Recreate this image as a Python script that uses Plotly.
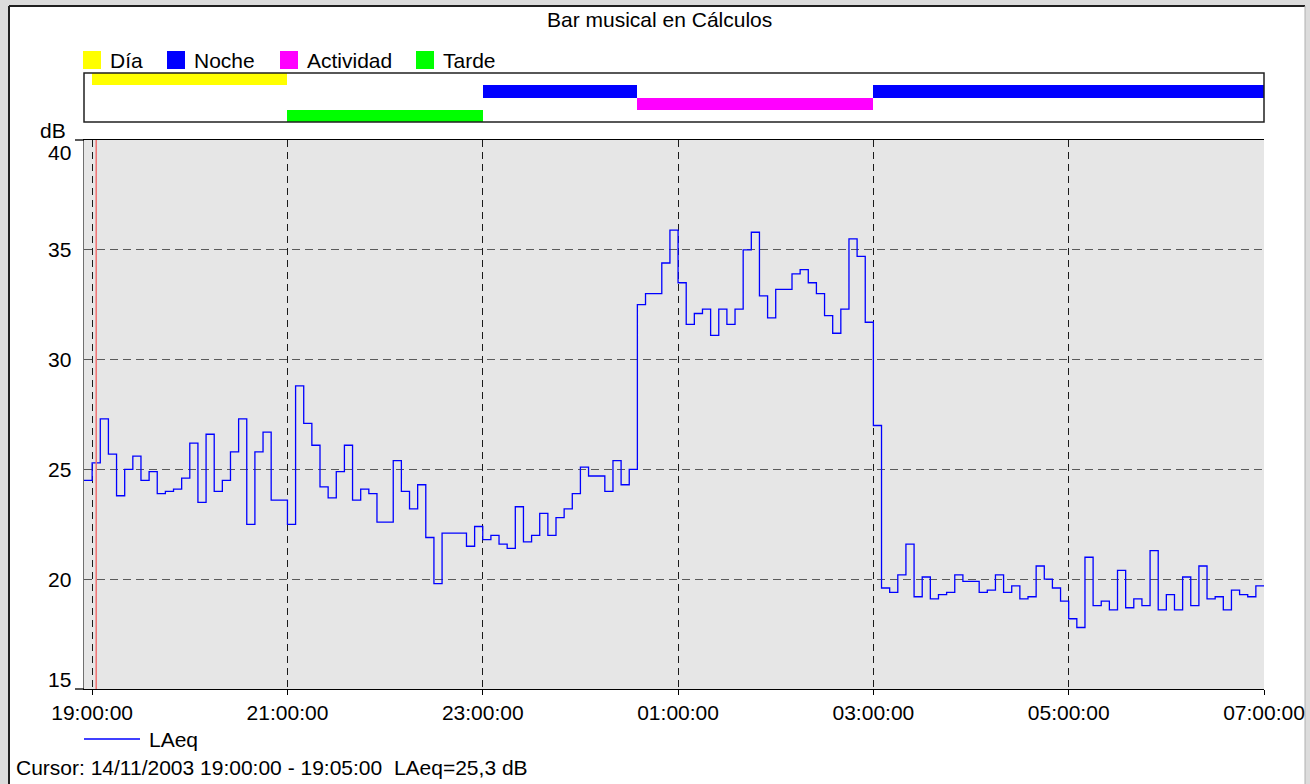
import pandas as pd
import plotly.graph_objects as go

# ---------------- data ----------------
title_text = "Bar musical en Cálculos"
series_name = "LAeq"
start_time = "2003-11-14 18:55:00"
end_time = "2003-11-15 07:00:00"
interval = "5min"
laeq = [
    24.5, 25.3, 27.3, 25.7, 23.8, 25.0, 25.6, 24.5, 24.9, 23.9, 24.0, 24.1,
    24.6, 26.2, 23.5, 26.6, 24.0, 24.5, 25.8, 27.3, 22.5, 25.8, 26.7, 23.6,
    23.6, 22.5, 28.8, 27.1, 26.1, 24.2, 23.7, 24.9, 26.1, 23.6, 24.1, 23.9,
    22.6, 22.6, 25.4, 24.0, 23.2, 24.3, 21.9, 19.8, 22.1, 22.1, 22.1, 21.5,
    22.4, 21.8, 22.0, 21.6, 21.4, 23.3, 21.7, 22.0, 23.0, 22.0, 22.8, 23.2,
    23.9, 25.1, 24.7, 24.7, 24.0, 25.4, 24.3, 25.0, 32.5, 33.0, 33.0, 34.4,
    35.9, 33.5, 31.6, 32.1, 32.3, 31.1, 32.3, 31.6, 32.3, 35.0, 35.8, 32.9,
    31.9, 33.2, 33.2, 33.9, 34.1, 33.5, 33.0, 32.0, 31.2, 32.3, 35.5, 34.7,
    31.7, 27.0, 19.6, 19.4, 20.2, 21.6, 19.2, 20.1, 19.1, 19.3, 19.4, 20.2,
    19.9, 19.9, 19.4, 19.5, 20.2, 19.4, 19.7, 19.1, 19.2, 20.6, 20.0, 19.6,
    19.0, 18.2, 17.8, 21.0, 18.8, 19.0, 18.6, 20.4, 18.7, 19.1, 18.8, 21.3,
    18.6, 19.3, 18.6, 20.1, 18.8, 20.6, 19.1, 19.2, 18.6, 19.5, 19.3, 19.2,
    19.7,
]

band_names = ["Día", "Noche", "Actividad", "Tarde"]
band_colors = ["#ffff00", "#0000ff", "#ff00ff", "#00ff00"]
period_band = ["Día", "Tarde", "Noche", "Actividad", "Noche"]
period_start = ["2003-11-14 19:00:00", "2003-11-14 21:00:00", "2003-11-14 23:00:00",
                "2003-11-15 00:35:00", "2003-11-15 03:00:00"]
period_end = ["2003-11-14 21:00:00", "2003-11-14 23:00:00", "2003-11-15 00:35:00",
              "2003-11-15 03:00:00", "2003-11-15 07:00:00"]

y_tick_vals = [15, 20, 25, 30, 35, 40]
y_tick_labels = ["15", "20", "25", "30", "35", "40"]
y_unit = "dB"
x_tick_start = "2003-11-14 19:00:00"
cursor_start = "2003-11-14 19:00:00"
cursor_end = "2003-11-14 19:05:00"
cursor_text = "Cursor: 14/11/2003 19:00:00 - 19:05:00  LAeq=25,3 dB"

# ---------------- geometry helpers ----------------
W, H = 1310, 784
ML, MR, MT, MB = 84, 46, 73, 95
PW, PH = W - ML - MR, H - MT - MB


def fx(px):
    return (px - ML) / PW


def fy(py):
    return (H - MB - py) / PH


FONT = "Liberation Sans, Arial, sans-serif"
FS = 21

times = pd.date_range(start_time, periods=len(laeq), freq=interval)
x_vals = list(times) + [times[-1] + pd.Timedelta(interval)]
y_vals = laeq + [laeq[-1]]

fig = go.Figure()

# main step line
fig.add_trace(go.Scatter(
    x=x_vals, y=y_vals, mode="lines", line=dict(color="#0000ff", width=1.3, shape="hv"),
    name=series_name, showlegend=False, xaxis="x", yaxis="y", hoverinfo="x+y"))

# band (period) bars
n_rows = len(band_names)
for bi, bname in enumerate(band_names):
    starts = [pd.Timestamp(s) for s, b in zip(period_start, period_band) if b == bname]
    ends = [pd.Timestamp(e) for e, b in zip(period_end, period_band) if b == bname]
    durs = [(e - s).total_seconds() * 1000 for s, e in zip(starts, ends)]
    fig.add_trace(go.Bar(
        base=[s.strftime("%Y-%m-%d %H:%M:%S") for s in starts], x=durs,
        y=[n_rows - 1 - bi] * len(starts), orientation="h", width=1,
        marker=dict(color=band_colors[bi], line=dict(width=0)),
        name=bname, showlegend=False, xaxis="x2", yaxis="y2"))

shapes = []
annotations = []

# outer white panel with sunken border
shapes.append(dict(type="rect", xref="paper", yref="paper", layer="below",
                   x0=fx(9), x1=fx(1305), y0=fy(800), y1=fy(6),
                   fillcolor="white", line=dict(width=0)))
shapes.append(dict(type="line", xref="paper", yref="paper", layer="below",
                   x0=fx(9), x1=fx(1305), y0=fy(6), y1=fy(6), line=dict(color="#202020", width=2)))
shapes.append(dict(type="line", xref="paper", yref="paper", layer="below",
                   x0=fx(9), x1=fx(9), y0=fy(800), y1=fy(6), line=dict(color="#202020", width=2)))
shapes.append(dict(type="line", xref="paper", yref="paper", layer="below",
                   x0=fx(1305), x1=fx(1305), y0=fy(800), y1=fy(6), line=dict(color="#b0b0b0", width=1)))

# main plot background
shapes.append(dict(type="rect", xref="x domain", yref="y domain", layer="below",
                   x0=0, x1=1, y0=0, y1=1, fillcolor="#e6e6e6", line=dict(width=0)))
# axis extensions to the left
for yy in (0, 1):
    shapes.append(dict(type="line", xref="paper", yref="y domain", layer="above",
                       x0=fx(75), x1=fx(84), y0=yy, y1=yy, line=dict(color="black", width=1.3)))

# band box border
shapes.append(dict(type="rect", xref="x2 domain", yref="y2 domain", layer="above",
                   x0=0, x1=1, y0=0, y1=1, line=dict(color="#202020", width=1.5)))

# cursor line (centre of cursor interval)
cur_mid = pd.Timestamp(cursor_start) + (pd.Timestamp(cursor_end) - pd.Timestamp(cursor_start)) / 2
shapes.append(dict(type="line", xref="x", yref="y domain", layer="above",
                   x0=cur_mid, x1=cur_mid, y0=0, y1=1, line=dict(color="#f07070", width=1.5)))

# top legend (manual)
legend_sq_x = [83, 167, 280, 416]
for bi, bname in enumerate(band_names):
    x0 = legend_sq_x[bi]
    shapes.append(dict(type="rect", xref="paper", yref="paper", layer="above",
                       x0=fx(x0), x1=fx(x0 + 18), y0=fy(69), y1=fy(51),
                       fillcolor=band_colors[bi], line=dict(width=0)))
    annotations.append(dict(text=bname, xref="paper", yref="paper", x=fx(x0 + 25), y=fy(60),
                            xanchor="left", yanchor="middle", showarrow=False,
                            font=dict(family=FONT, size=FS, color="black")))

# bottom legend (manual)
shapes.append(dict(type="line", xref="paper", yref="paper", layer="above",
                   x0=fx(84), x1=fx(140), y0=fy(739), y1=fy(739),
                   line=dict(color="#0000ff", width=1.3)))
annotations.append(dict(text=series_name, xref="paper", yref="paper", x=fx(147), y=fy(739),
                        xanchor="left", yanchor="middle", showarrow=False,
                        font=dict(family=FONT, size=FS, color="black")))

# title
annotations.append(dict(text=title_text, xref="paper", yref="paper", x=fx(659), y=fy(20),
                        xanchor="center", yanchor="middle", showarrow=False,
                        font=dict(family=FONT, size=FS, color="black")))
# cursor text
annotations.append(dict(text=cursor_text, xref="paper", yref="paper", x=fx(14), y=fy(767),
                        xanchor="left", yanchor="middle", showarrow=False,
                        font=dict(family=FONT, size=FS, color="black")))
# y unit
annotations.append(dict(text=y_unit, xref="paper", yref="paper", x=fx(68), y=fy(130),
                        xanchor="right", yanchor="middle", showarrow=False,
                        font=dict(family=FONT, size=FS, color="black")))
# y tick labels
for v, lab in zip(y_tick_vals, y_tick_labels):
    shift = 0
    if v == max(y_tick_vals):
        shift = -12
    elif v == min(y_tick_vals):
        shift = 10
    annotations.append(dict(text=lab, xref="paper", yref="y", x=fx(73), y=v, yshift=shift,
                            xanchor="right", yanchor="middle", showarrow=False,
                            font=dict(family=FONT, size=FS, color="black")))

main_top = fy(140)
band_bottom = fy(122)

fig.update_layout(
    width=W, height=H,
    margin=dict(l=ML, r=MR, t=MT, b=MB, autoexpand=False),
    paper_bgcolor="#dcdcdc", plot_bgcolor="rgba(0,0,0,0)",
    font=dict(family=FONT, size=FS, color="black"),
    showlegend=False, bargap=0, barmode="overlay",
    xaxis=dict(type="date", range=[start_time, end_time], domain=[0, 1],
               tick0=x_tick_start, dtick=2 * 3600 * 1000, tickformat="%H:%M:%S",
               showgrid=True, gridcolor="#1a1a1a", griddash="7px,5px", gridwidth=1,
               showline=True, linecolor="black", linewidth=1.3, mirror=True,
               ticks="outside", ticklen=5, tickcolor="black", tickwidth=1,
               ticklabelstandoff=0, tickfont=dict(family=FONT, size=FS, color="black"),
               zeroline=False, anchor="y"),
    yaxis=dict(range=[15, 40], domain=[0, main_top], tickvals=y_tick_vals,
               showticklabels=False, ticks="", showgrid=True, gridcolor="#5a5a5a",
               griddash="8px,5px", gridwidth=1.4, showline=True, linecolor="#707070",
               linewidth=1.3, mirror=False, zeroline=False, anchor="x", fixedrange=True),
    xaxis2=dict(type="date", matches="x", anchor="y2", showticklabels=False,
                showgrid=False, ticks="", showline=False, zeroline=False),
    yaxis2=dict(range=[-0.5, n_rows - 0.5], domain=[band_bottom, 1], anchor="x2",
                showticklabels=False, showgrid=False, ticks="", showline=False,
                zeroline=False, fixedrange=True),
    shapes=shapes, annotations=annotations,
)

fig.write_html("out.html", config={"displayModeBar": False},
               post_script="document.body.style.margin='0';document.body.style.padding='0';"
                           "document.body.style.overflow='hidden';")
